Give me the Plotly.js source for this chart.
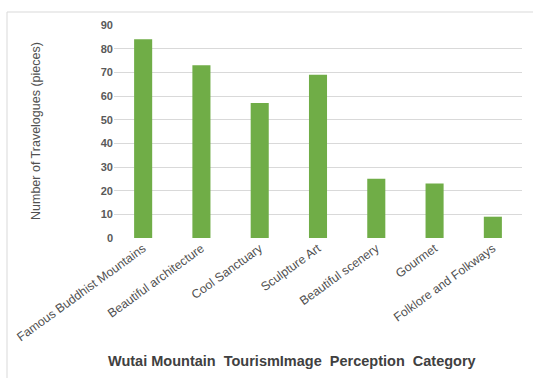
<!DOCTYPE html>
<html>
<head>
<meta charset="utf-8">
<script src="https://cdn.plot.ly/plotly-3.0.1.min.js"></script>
<style>html,body{margin:0;padding:0;background:#fff;}#chart{width:533px;height:378px;}</style>
</head>
<body>
<div id="chart"></div>
<script>
const categories = ["Famous Buddhist Mountains", "Beautiful architecture", "Cool Sanctuary", "Sculpture Art", "Beautiful scenery", "Gourmet", "Folklore and Folkways"];
const travelogues = [84, 73, 57, 69, 25, 23, 9];
const yTicks = [0, 10, 20, 30, 40, 50, 60, 70, 80, 90];
const xTitle = "Wutai Mountain\u00a0 TourismImage\u00a0 Perception\u00a0 Category";
const yTitle = "Number of Travelogues (pieces)";

const W = 533, H = 378;
const L = 114, R = 11, T = 25, B = 140;
const pw = W - L - R, ph = H - T - B;
const px = v => (v - L) / pw;
const py = v => (H - B - v) / ph;

const trace = {
  type: 'bar', x: categories, y: travelogues,
  marker: {color: '#70AD47', line: {width: 0}},
  hoverinfo: 'none'
};
const layout = {
  width: W, height: H,
  margin: {l: L, r: R, t: T, b: B},
  paper_bgcolor: '#fff', plot_bgcolor: '#fff',
  bargap: 0.69,
  showlegend: false,
  font: {family: 'Liberation Sans, Arial, sans-serif', color: '#595959'},
  xaxis: {
    tickangle: -36, tickfont: {size: 12.3, color: '#505050'},
    showgrid: false, showline: false, ticks: '', zeroline: false,
    automargin: false
  },
  yaxis: {
    range: [0, 90], tickvals: yTicks, ticktext: yTicks.map(String),
    tickfont: {size: 11, color: '#595959', weight: 'bold'},
    showgrid: true, gridcolor: '#d9d9d9', gridwidth: 1,
    zeroline: false, showline: false, ticks: '', ticklen: 0,
    automargin: false
  },
  shapes: [{
    type: 'rect', xref: 'paper', yref: 'paper',
    x0: px(7), x1: px(545), y0: py(395), y1: py(12),
    line: {color: '#d9d9d9', width: 1}, fillcolor: 'rgba(0,0,0,0)', layer: 'below'
  }],
  annotations: [
    {text: xTitle, xref: 'paper', yref: 'paper', x: px(292), y: py(361),
     xanchor: 'center', yanchor: 'middle', showarrow: false,
     font: {size: 14.5, color: '#404040', weight: 'bold'}},
    {text: yTitle, xref: 'paper', yref: 'paper', x: px(36), y: py(131),
     xanchor: 'center', yanchor: 'middle', showarrow: false, textangle: -90,
     font: {size: 12.5, color: '#505050'}}
  ]
};
Plotly.newPlot('chart', [trace], layout, {displayModeBar: false, staticPlot: true});
</script>
</body>
</html>
